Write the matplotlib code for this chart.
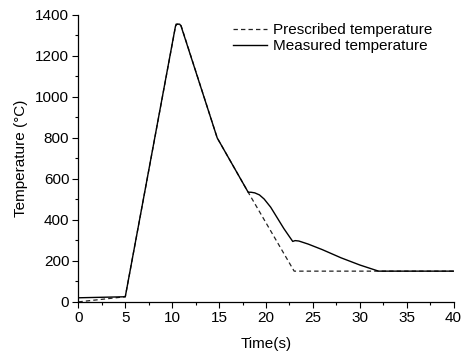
import matplotlib
matplotlib.use("Agg")
import matplotlib.pyplot as plt
from matplotlib.ticker import MultipleLocator

plt.rcParams['font.family'] = ['Liberation Sans', 'DejaVu Sans']

# Prescribed thermal cycle
pres_t = [0, 5, 10.4, 10.9, 14.8, 18.1, 23.0, 40]
pres_T = [0, 25, 1355, 1355, 800, 535, 150, 150]

# Measured thermal cycle
meas_t = [0, 5, 10.35, 10.5, 10.8, 10.95, 14.8, 18.1, 18.4, 18.8, 19.3, 19.8,
          20.5, 21.2, 21.9, 22.5, 22.85, 23.1, 23.5, 24.5, 26, 28, 30, 31.2,
          32, 40]
meas_T = [20, 25, 1345, 1355, 1355, 1345, 800, 535, 535, 532, 522, 502,
          462, 410, 358, 318, 295, 299, 297, 282, 255, 215, 180, 162,
          150, 150]

fig = plt.figure(figsize=(4.61, 3.56), dpi=100)
ax = fig.add_axes([0.170, 0.152, 0.814, 0.806])

ax.plot(pres_t, pres_T, color='#222222', lw=0.9, ls=(0, (3.5, 2.5)),
        label='Prescribed temperature')
ax.plot(meas_t, meas_T, color='black', lw=1.0, label='Measured temperature')

ax.set_xlim(0, 40)
ax.set_ylim(0, 1400)
ax.xaxis.set_major_locator(MultipleLocator(5))
ax.xaxis.set_minor_locator(MultipleLocator(2.5))
ax.yaxis.set_major_locator(MultipleLocator(200))
ax.yaxis.set_minor_locator(MultipleLocator(100))

for s in ('top', 'right'):
    ax.spines[s].set_visible(False)
for s in ('left', 'bottom'):
    ax.spines[s].set_linewidth(0.9)

ax.tick_params(which='major', direction='out', length=4.5, width=0.8,
               labelsize=11, pad=2)
ax.tick_params(which='minor', direction='out', length=2.5, width=0.8)

ax.set_xlabel('Time(s)', fontsize=11, labelpad=9)
ax.set_ylabel('Temperature (°C)', fontsize=11, labelpad=5)

leg = ax.legend(loc='upper left', frameon=False, fontsize=11,
                handlelength=2.2, handletextpad=0.4, labelspacing=0.15,
                bbox_to_anchor=(0.412, 0.972), borderaxespad=0.0,
                borderpad=0.0)

fig.savefig('out.png', dpi=100)
